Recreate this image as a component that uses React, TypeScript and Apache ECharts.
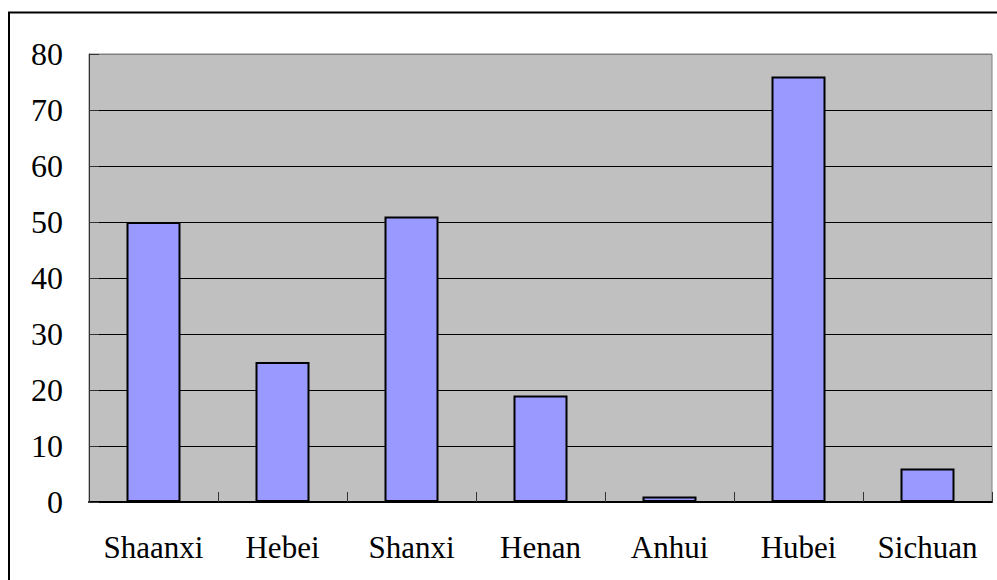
import React, { useEffect, useRef } from "react";
import * as echarts from "echarts";

const categories = ["Shaanxi", "Hebei", "Shanxi", "Henan", "Anhui", "Hubei", "Sichuan"];
const values = [50, 25, 51, 19, 1, 76, 6];
const yMin = 0;
const yMax = 80;
const yInterval = 10;

export default function App() {
  const ref = useRef<HTMLDivElement>(null);
  useEffect(() => {
    document.body.style.margin = "0";
    if (!ref.current) return;
    const chart = echarts.init(ref.current, undefined, { renderer: "svg" });
    const gridColors = ["#000", "#000", "#000", "#000", "#000", "#000", "#000", "#000", "#808080"];
    chart.setOption({
      animation: false,
      backgroundColor: "#ffffff",
      graphic: [
        {
          type: "rect",
          shape: { x: 9, y: 12.5, width: 1100, height: 700 },
          style: { fill: "none", stroke: "#000", lineWidth: 2 },
          silent: true,
          z: 100,
        },
      ],
      grid: {
        left: 89,
        right: 5,
        top: 54,
        bottom: 78,
        show: true,
        backgroundColor: "#C0C0C0",
        borderColor: "#808080",
        borderWidth: 1,
      },
      xAxis: {
        type: "category",
        data: categories,
        boundaryGap: true,
        axisLine: { show: true, lineStyle: { color: "#000", width: 2 } },
        axisTick: { show: true, inside: true, interval: 0, length: 10, lineStyle: { color: "#333", width: 1 } },
        axisLabel: {
          color: "#000",
          fontFamily: "Liberation Serif",
          fontSize: 31,
          margin: 30,
          interval: 0,
          hideOverlap: false,
        },
        splitLine: { show: false },
      },
      yAxis: {
        type: "value",
        min: yMin,
        max: yMax,
        interval: yInterval,
        axisLine: { show: true, lineStyle: { color: "#333", width: 1 } },
        axisTick: { show: true, inside: true, length: 10, lineStyle: { color: "#333", width: 1 } },
        axisLabel: {
          color: "#000",
          fontFamily: "Liberation Serif",
          fontSize: 32,
          margin: 26,
        },
        splitLine: { show: true, lineStyle: { color: gridColors, width: 1 } },
      },
      series: [
        {
          type: "bar",
          data: values,
          barWidth: 54,
          itemStyle: { color: "#9999FF", borderColor: "#000", borderWidth: 2 },
        },
      ],
    });
    return () => chart.dispose();
  }, []);
  return <div ref={ref} style={{ width: 997, height: 580 }} />;
}
